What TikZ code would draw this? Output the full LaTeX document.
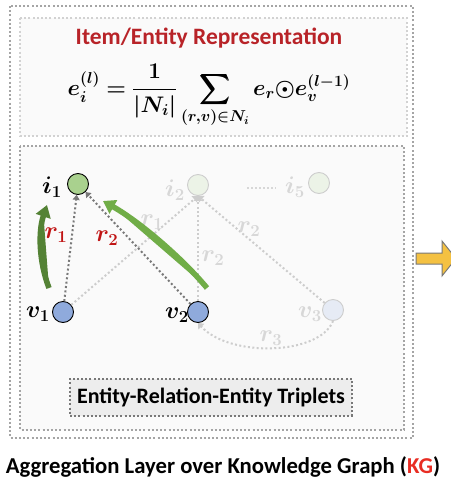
\RequirePackage{fix-cm}
\documentclass[tikz,border=0pt]{standalone}
\usepackage{amsmath,bm}
\usepackage{fontspec}
\setmainfont{Carlito}
\usetikzlibrary{arrows.meta}
\definecolor{titlered}{RGB}{184,35,40}
\definecolor{rlab}{RGB}{192,20,20}
\definecolor{kgred}{RGB}{232,45,35}
\definecolor{boxgray}{RGB}{165,165,165}
\definecolor{lightbox}{RGB}{210,210,210}
\definecolor{bgfill}{RGB}{250,250,250}
\definecolor{igreen}{RGB}{169,209,142}
\definecolor{vblue}{RGB}{143,170,220}
\definecolor{fadegreen}{RGB}{236,243,231}
\definecolor{fadeblue}{RGB}{230,235,245}
\definecolor{fadeline}{RGB}{205,205,205}
\definecolor{fadetext}{RGB}{215,215,215}
\definecolor{edgegray}{RGB}{120,120,120}
\definecolor{dkgreen}{RGB}{84,130,53}
\definecolor{ltgreen}{RGB}{112,173,71}
\definecolor{arrowyellow}{RGB}{244,193,66}
\tikzset{
  dotbox/.style={line width=2pt, dash pattern=on 2pt off 2.2pt},
  ent/.style={circle, draw=black, line width=0.9pt, minimum size=21pt, inner sep=0pt},
  fadeent/.style={circle, draw=fadeline, line width=0.9pt, minimum size=21pt, inner sep=0pt},
  lab/.style={font=\fontsize{24}{28}\selectfont, inner sep=0pt},
  edge/.style={draw=edgegray, line width=2pt, dash pattern=on 2pt off 2.4pt, -{Triangle[width=7pt,length=5pt]}},
  fadeedge/.style={draw=fadeline, line width=2pt, dash pattern=on 2pt off 2.4pt, -{Triangle[width=8pt,length=5pt]}},
  bigarrow/.style={line width=5.5pt, -{Triangle[width=15pt,length=12pt]}},
}
\begin{document}
\begin{tikzpicture}[x=1pt,y=-1pt]
\useasboundingbox (0,0) rectangle (450,490);
% boxes
\draw[dotbox, draw=boxgray, fill=white] (10,6) rectangle (413,438);
\draw[dotbox, draw=lightbox, fill=bgfill] (20,18) rectangle (407,136);
\draw[dotbox, draw=boxgray, fill=bgfill] (20,146) rectangle (404,430);
% title and formula
\node[text=titlered, font=\bfseries\fontsize{23.5}{27}\selectfont] (title) at (209,38) {Item/Entity Representation};
\node[font=\fontsize{22.5}{26}\selectfont, inner sep=0pt] (formula) at (209,96)
  {$\displaystyle \bm{e_i^{(l)}} \bm{=} \bm{\frac{1}{|N_i|}}\bm{\sum_{(r,v)\in N_i}} \bm{e_r{\odot}e_v^{(l-1)}}$};
% faded nodes
\node[fadeent, fill=fadegreen] (i2) at (198,185) {};
\node[fadeent, fill=fadegreen] (i5) at (319,183) {};
\node[fadeent, fill=fadeblue] (v3) at (333,310) {};
\node[lab, text=fadetext] (li2) at (175,190) {$\bm{i_2}$};
\node[lab, text=fadetext] (li5) at (295,187) {$\bm{i_5}$};
\node[lab, text=fadetext] (lv3) at (310,314) {$\bm{v_3}$};
\coordinate (d1) at (247,188);
\coordinate (d2) at (276,188);
\draw[draw=fadetext, line width=2.2pt, dash pattern=on 2pt off 2pt] (d1) -- (d2);
% main nodes
\node[ent, fill=igreen] (i1) at (78,184) {};
\node[ent, fill=vblue] (v1) at (63,312) {};
\node[ent, fill=vblue] (v2) at (198,312) {};
\node[lab] (li1) at (52,187) {$\bm{i_1}$};
\node[lab] (lv1) at (38,314) {$\bm{v_1}$};
\node[lab] (lv2) at (177,315) {$\bm{v_2}$};
% faded edges
\draw[fadeedge] (v1) -- (i2.south);
\draw[fadeedge] (v2) -- (i2.south);
\draw[fadeedge] (v3) -- (i2.south);
\draw[fadeedge] (v3.south) .. controls (320,355) and (230,358) .. (v2.south);
\node[lab, text=fadetext] (fr1) at (152,222) {$\bm{r_1}$};
\node[lab, text=fadetext] (fr2a) at (213,258) {$\bm{r_2}$};
\node[lab, text=fadetext] (fr2b) at (249,229) {$\bm{r_2}$};
\node[lab, text=fadetext] (fr3) at (271,338) {$\bm{r_3}$};
% main edges
\draw[edge] (v1) -- (i1);
\draw[edge] (v2) -- (i1);
\node[lab, text=rlab] (r1) at (56,235) {$\bm{r_1}$};
\node[lab, text=rlab] (r2) at (107,238) {$\bm{r_2}$};
% green arrows
\coordinate (g1s) at (49,288);
\coordinate (g1e) at (47,205);
\draw[bigarrow, draw=dkgreen, fill=dkgreen] (g1s) .. controls (39,262) and (38,232) .. (g1e);
\coordinate (g2s) at (207,288);
\coordinate (g2e) at (103,201);
\draw[bigarrow, draw=ltgreen, fill=ltgreen] (g2s) .. controls (182,258) and (140,222) .. (g2e);
% triplets box
\node[draw=edgegray, dotbox, fill=black!7, minimum width=282pt, minimum height=37pt, inner sep=0pt,
  font=\bfseries\fontsize{22}{26}\selectfont] (trip) at (211,397) {Entity-Relation-Entity Triplets};
% caption
\node[font=\bfseries\fontsize{22.7}{26}\selectfont] (cap) at (223,467) {Aggregation Layer over Knowledge Graph (\textcolor{kgred}{KG})};
% yellow arrow
\draw[draw=edgegray, line width=1pt, fill=arrowyellow] (416,253) -- (442,253) -- (442,241) -- (456,258.5) -- (442,276) -- (442,264) -- (416,264) -- cycle;
\end{tikzpicture}
\end{document}
